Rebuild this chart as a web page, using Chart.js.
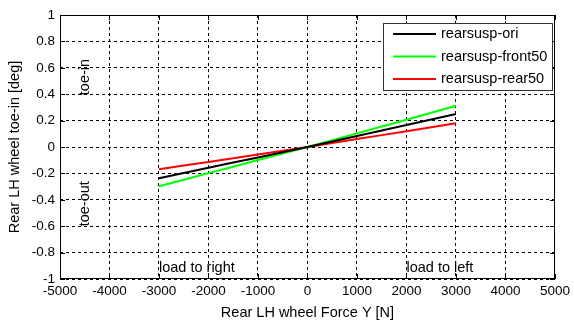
<!DOCTYPE html>
<html>
<head>
<meta charset="utf-8">
<script src="https://cdn.jsdelivr.net/npm/chart.js@4/dist/chart.umd.min.js"></script>
<style>
  html, body { margin: 0; padding: 0; background: #fff; }
  #wrap { width: 574px; height: 322px; position: relative; }
</style>
</head>
<body>
<div id="wrap"><canvas id="toe"></canvas></div>
<script>
const forceY = [-3000, -2500, -2000, -1500, -1000, -500, 0, 500, 1000, 1500, 2000, 2500, 3000];
const toeOri = [-0.237, -0.197, -0.157, -0.118, -0.079, -0.040, 0, 0.041, 0.083, 0.125, 0.166, 0.208, 0.25];
const toeFront50 = [-0.298, -0.248, -0.198, -0.149, -0.099, -0.050, 0, 0.051, 0.103, 0.155, 0.207, 0.26, 0.313];
const toeRear50 = [-0.169, -0.141, -0.113, -0.085, -0.056, -0.028, 0, 0.03, 0.06, 0.09, 0.12, 0.15, 0.18];

const seriesNames = ["rearsusp-ori", "rearsusp-front50", "rearsusp-rear50"];
const seriesColors = ["#000000", "#00ff00", "#ff0000"];

// text notes placed in data units
const notes = [
  { text: "toe-in", x: -4500, y: 0.53, rotate: true },
  { text: "toe-out", x: -4500, y: -0.43, rotate: true },
  { text: "load to right", x: -3000, y: -0.92 },
  { text: "load to left", x: 2000, y: -0.92 }
];

const FONT = "Arial, 'Liberation Sans', sans-serif";
const TEXT_SIZE = 14.5;
const TICK_SIZE = 13.5;

const toPoints = (ys) => ys.map((y, i) => ({ x: forceY[i], y: y }));

// box around the axes, inward ticks, notes and the legend
const matlabFrame = {
  id: "matlabFrame",
  afterDatasetsDraw(chart) {
    const { ctx, chartArea: a, scales } = chart;
    ctx.save();
    ctx.strokeStyle = "#000";
    ctx.lineWidth = 1;
    ctx.setLineDash([]);
    ctx.strokeRect(Math.round(a.left) + 0.5, Math.round(a.top) + 0.5,
      Math.round(a.right - a.left) - 1, Math.round(a.bottom - a.top) - 1);

    ctx.beginPath();
    scales.x.ticks.forEach(t => {
      const px = Math.round(scales.x.getPixelForValue(t.value)) + 0.5;
      ctx.moveTo(px, a.bottom); ctx.lineTo(px, a.bottom - 5);
      ctx.moveTo(px, a.top); ctx.lineTo(px, a.top + 5);
    });
    scales.y.ticks.forEach(t => {
      const py = Math.round(scales.y.getPixelForValue(t.value)) + 0.5;
      ctx.moveTo(a.left, py); ctx.lineTo(a.left + 5, py);
      ctx.moveTo(a.right, py); ctx.lineTo(a.right - 5, py);
    });
    ctx.stroke();

    ctx.fillStyle = "#000";
    ctx.font = TEXT_SIZE + "px " + FONT;
    notes.forEach(n => {
      const px = scales.x.getPixelForValue(n.x);
      const py = scales.y.getPixelForValue(n.y);
      if (n.rotate) {
        ctx.save();
        ctx.translate(px, py);
        ctx.rotate(-Math.PI / 2);
        ctx.textAlign = "center";
        ctx.textBaseline = "middle";
        ctx.fillText(n.text, 0, 0);
        ctx.restore();
      } else {
        ctx.textAlign = "left";
        ctx.textBaseline = "middle";
        ctx.fillText(n.text, px, py);
      }
    });

    // legend
    const lx = 383, ly = 23, lw = 169, lh = 67;
    ctx.fillStyle = "#fff";
    ctx.fillRect(lx, ly, lw, lh);
    ctx.strokeStyle = "#333";
    ctx.strokeRect(lx + 0.5, ly + 0.5, lw, lh);
    chart.data.datasets.forEach((ds, i) => {
      const ry = 34 + i * 22.5;
      ctx.strokeStyle = ds.borderColor;
      ctx.lineWidth = 2;
      ctx.beginPath();
      ctx.moveTo(393, ry); ctx.lineTo(436, ry);
      ctx.stroke();
      ctx.fillStyle = "#000";
      ctx.textAlign = "left";
      ctx.textBaseline = "middle";
      ctx.fillText(ds.label, 441, ry);
    });
    ctx.restore();
  }
};

new Chart(document.getElementById("toe"), {
  type: "line",
  data: {
    datasets: [toeOri, toeFront50, toeRear50].map((ys, i) => ({
      label: seriesNames[i],
      data: toPoints(ys),
      borderColor: seriesColors[i],
      backgroundColor: seriesColors[i],
      borderWidth: 2,
      pointRadius: 0,
      tension: 0
    }))
  },
  options: {
    responsive: true,
    maintainAspectRatio: false,
    animation: false,
    layout: { padding: { top: 15, right: 16, left: 0, bottom: 0 } },
    plugins: { legend: { display: false }, tooltip: { enabled: false } },
    scales: {
      x: {
        type: "linear",
        min: -5000,
        max: 5000,
        ticks: { stepSize: 1000, color: "#000", font: { size: TICK_SIZE, family: FONT }, padding: 4, maxRotation: 0,
          callback: (v) => String(v) },
        grid: { color: "#000", lineWidth: 1, drawTicks: false },
        border: { display: false, dash: [3, 3] },
        title: { display: true, text: "Rear LH wheel Force Y [N]", color: "#000", font: { size: TEXT_SIZE, family: FONT }, padding: { top: 1, bottom: 0 } },
        afterFit(scale) { scale.height = 43; }
      },
      y: {
        min: -1,
        max: 1,
        ticks: { stepSize: 0.2, color: "#000", font: { size: TICK_SIZE, family: FONT }, padding: 5,
          callback: (v) => Number(v.toFixed(1)).toString() },
        grid: { color: "#000", lineWidth: 1, drawTicks: false },
        border: { display: false, dash: [3, 3] },
        title: { display: true, text: "Rear LH wheel toe-in [deg]", color: "#000", font: { size: TEXT_SIZE, family: FONT }, padding: { top: 6, bottom: 0 } },
        afterFit(scale) { scale.width = 60; }
      }
    }
  },
  plugins: [matlabFrame]
});
</script>
</body>
</html>
